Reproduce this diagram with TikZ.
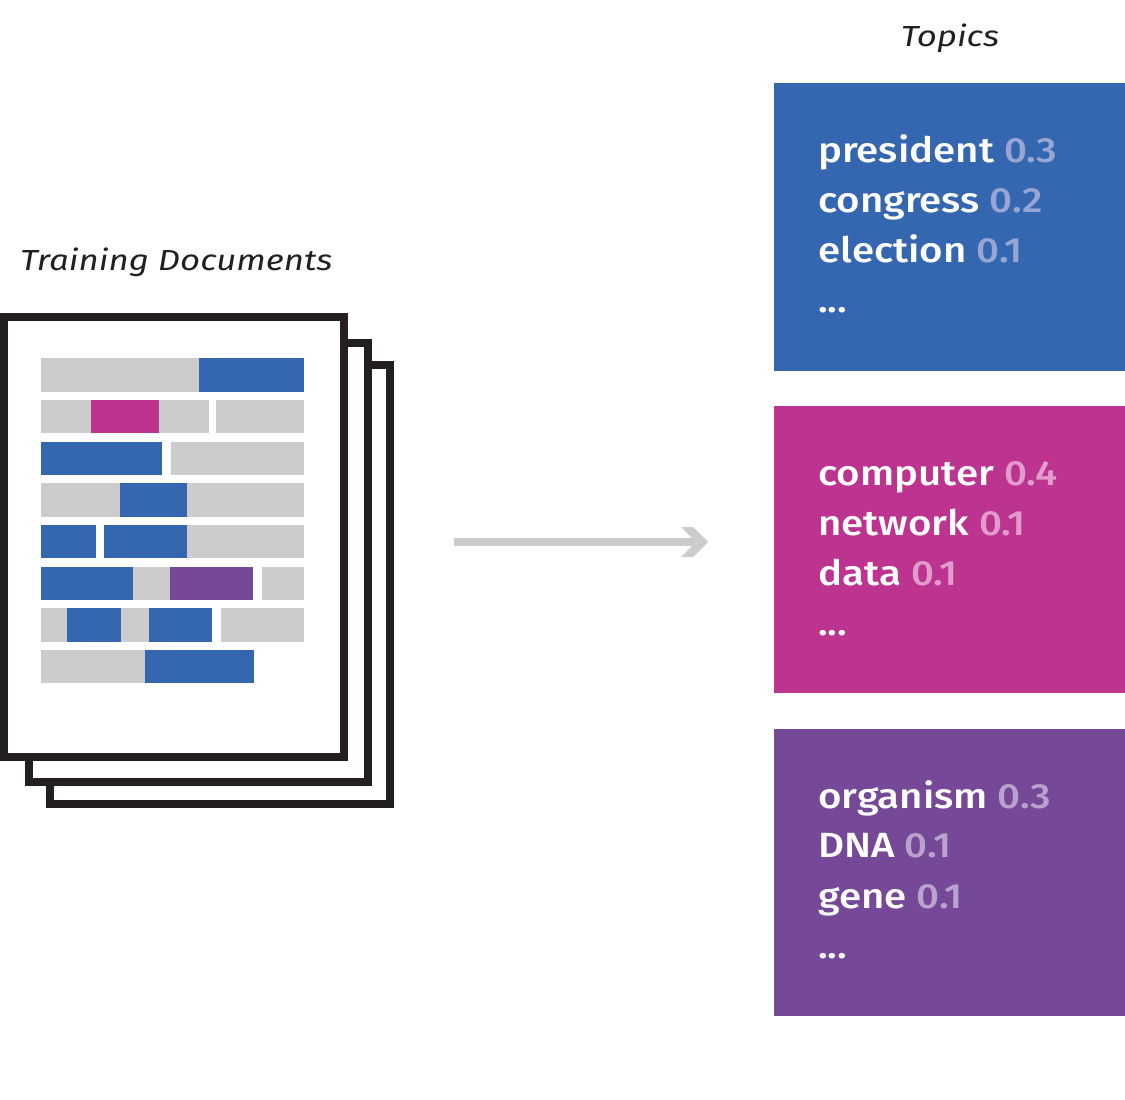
\documentclass[tikz,border=0pt]{standalone}
\usepackage{fontspec}
\setmainfont{Fira Sans}[FakeStretch=1.15,UprightFont={* Medium},ItalicFont={* Medium Italic}]
\newfontfamily\headfont{Fira Sans}[FakeStretch=1.2]
\definecolor{inkblack}{HTML}{231F20}
\definecolor{barg}{HTML}{CCCCCC}
\definecolor{tblue}{HTML}{3567B1}
\definecolor{tmag}{HTML}{BC3390}
\definecolor{tpur}{HTML}{764898}
\definecolor{nblue}{HTML}{98A6D5}
\definecolor{nmag}{HTML}{E29BCB}
\definecolor{npur}{HTML}{B9A2CD}
\begin{document}
\begin{tikzpicture}[x=1pt,y=-1pt,
  page/.style={draw=inkblack,fill=white,line width=8pt,miter limit=10},
  gbar/.style={fill=barg},
  bbar/.style={fill=tblue},
  mbar/.style={fill=tmag},
  pbar/.style={fill=tpur},
  heading/.style={font=\headfont\fontsize{29}{34}\selectfont\itshape,text=inkblack,inner sep=0pt},
  word/.style={font=\fontsize{35}{40}\selectfont,text=white,inner sep=0pt,anchor=base west},
  arrowline/.style={draw=barg,line width=8pt},
]
\useasboundingbox (0,0) rectangle (1125,1100);
% pages
\draw[page] (50,365) rectangle (390,804);
\draw[page] (29,343) rectangle (368,782);
\draw[page] (4,317) rectangle (344,757);
% row 1
\fill[gbar] (41,358) rectangle (199,392);
\fill[bbar] (199,358) rectangle (304,392);
% row 2
\fill[gbar] (41,400) rectangle (91,433);
\fill[mbar] (91,400) rectangle (159,433);
\fill[gbar] (159,400) rectangle (209,433);
\fill[gbar] (216,400) rectangle (304,433);
% row 3
\fill[bbar] (41,442) rectangle (162,475);
\fill[gbar] (171,442) rectangle (304,475);
% row 4
\fill[gbar] (41,483) rectangle (120,517);
\fill[bbar] (120,483) rectangle (187,517);
\fill[gbar] (187,483) rectangle (304,517);
% row 5
\fill[bbar] (41,525) rectangle (96,558);
\fill[bbar] (104,525) rectangle (187,558);
\fill[gbar] (187,525) rectangle (304,558);
% row 6
\fill[bbar] (41,567) rectangle (133,600);
\fill[gbar] (133,567) rectangle (170,600);
\fill[pbar] (170,567) rectangle (253,600);
\fill[gbar] (262,567) rectangle (304,600);
% row 7
\fill[gbar] (41,608) rectangle (67,642);
\fill[bbar] (67,608) rectangle (121,642);
\fill[gbar] (121,608) rectangle (149,642);
\fill[bbar] (149,608) rectangle (212,642);
\fill[gbar] (221,608) rectangle (304,642);
% row 8
\fill[gbar] (41,650) rectangle (145,683);
\fill[bbar] (145,650) rectangle (254,683);
% headings
\node[heading,anchor=base west] (trainlabel) at (20,270) {Training Documents};
\node[heading,anchor=base] (topicslabel) at (950,46) {Topics};
% arrow
\coordinate (arrowstart) at (454,542);
\coordinate (arrowend) at (700,542);
\draw[arrowline] (arrowstart) -- (arrowend);
\fill[barg] (arrowend) ++(-19,-15) -- ++(12,0) -- ++(15,15) -- ++(-15,15) -- ++(-12,0) -- ++(15,-15) -- cycle;
% topic boxes
\fill[tblue] (774,83) rectangle (1125,371);
\fill[tmag] (774,406) rectangle (1125,693);
\fill[tpur] (774,729) rectangle (1125,1016);
% blue topic
\node[word] (w11) at (818,162) {president \textcolor{nblue}{0.3}};
\node[word] (w12) at (818,212) {congress \textcolor{nblue}{0.2}};
\node[word] (w13) at (818,262) {election \textcolor{nblue}{0.1}};
\node[word] (w14) at (818,312) {...};
% magenta topic
\node[word] (w21) at (818,485) {computer \textcolor{nmag}{0.4}};
\node[word] (w22) at (818,535) {network \textcolor{nmag}{0.1}};
\node[word] (w23) at (818,585) {data \textcolor{nmag}{0.1}};
\node[word] (w24) at (818,635) {...};
% purple topic
\node[word] (w31) at (818,808) {organism \textcolor{npur}{0.3}};
\node[word] (w32) at (818,857) {DNA \textcolor{npur}{0.1}};
\node[word] (w33) at (818,908) {gene \textcolor{npur}{0.1}};
\node[word] (w34) at (818,958) {...};
\end{tikzpicture}
\end{document}
